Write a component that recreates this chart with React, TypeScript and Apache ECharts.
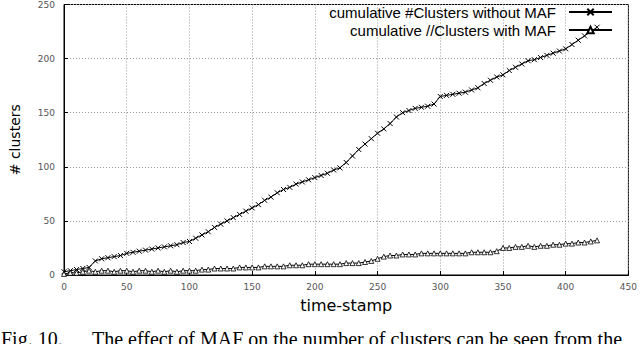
import React, { useEffect, useRef } from "react";
import * as echarts from "echarts";

const timeStamps = [
  0, 5, 10, 15, 20, 25, 30, 35, 40, 45, 50, 55, 60, 65, 70, 75, 80, 85, 90, 95,
  100, 105, 110, 115, 120, 125, 130, 135, 140, 145, 150, 155, 160, 165, 170, 175, 180, 185, 190, 195,
  200, 205, 210, 215, 220, 225, 230, 235, 240, 245, 250, 255, 260, 265, 270, 275, 280, 285, 290, 295,
  300, 305, 310, 315, 320, 325, 330, 335, 340, 345, 350, 355, 360, 365, 370, 375, 380, 385, 390, 395,
  400, 405, 410, 415, 420, 425,
];

const withoutMAF = [
  3, 4, 5, 6, 7, 13, 15, 16, 17, 18, 20, 21, 22, 23, 24, 25, 26, 27, 28, 30,
  31, 34, 37, 40, 44, 47, 50, 53, 56, 59, 62, 65, 69, 72, 76, 79, 81, 84, 86, 88,
  90, 92, 94, 97, 99, 104, 110, 116, 121, 126, 131, 135, 140, 146, 150, 152, 154, 155, 156, 158,
  165, 166, 167, 168, 169, 171, 173, 177, 180, 183, 185, 189, 192, 195, 198, 199, 201, 203, 205, 207,
  209, 213, 217, 221, 225, 229,
];

const withMAF = [
  1, 2, 2, 3, 4, 3, 4, 4, 3, 4, 4, 3, 4, 4, 3, 4, 3, 4, 3, 4,
  4, 4, 5, 5, 6, 6, 6, 6, 7, 7, 7, 7, 8, 8, 8, 8, 9, 9, 9, 10,
  10, 10, 10, 10, 10, 11, 11, 11, 12, 13, 15, 17, 18, 18, 19, 19, 19, 20, 20, 20,
  20, 20, 20, 20, 20, 21, 21, 21, 21, 22, 25, 25, 26, 26, 27, 26, 27, 27, 28, 28,
  29, 29, 30, 30, 31, 32,
];

const xTicks = { min: 0, max: 450, interval: 50 };
const yTicks = { min: 0, max: 250, interval: 50 };

const seriesNames = ["cumulative #Clusters without MAF", "cumulative //Clusters with MAF"];
const xName = "time-stamp";
const yName = "# clusters";
const captionLead = "Fig. 10.";
const captionText = "The effect of MAF on the number of clusters can be seen from the";

export default function App() {
  const ref = useRef<HTMLDivElement>(null);
  useEffect(() => {
    if (!ref.current) return;
    const chart = echarts.init(ref.current, undefined, { renderer: "svg" });
    const pair = (vals: number[]) => timeStamps.map((t, i) => [t, vals[i]]);
    chart.setOption({
      animation: false,
      backgroundColor: "#fff",
      grid: {
        left: 58,
        right: 8,
        top: 4,
        bottom: 69,
        show: true,
        borderColor: "#000",
        borderWidth: 1,
      },
      legend: {
        orient: "vertical",
        right: 27,
        top: 3,
        padding: 0,
        align: "right",
        itemWidth: 43,
        itemHeight: 8,
        itemGap: 0,
        textStyle: { fontSize: 15, lineHeight: 18, fontFamily: "Liberation Sans", color: "#000", padding: [0, 8, 0, 0] },
        data: seriesNames,
      },
      xAxis: {
        type: "value",
        min: xTicks.min,
        max: xTicks.max,
        interval: xTicks.interval,
        name: xName,
        nameLocation: "middle",
        nameGap: 22,
        nameTextStyle: { fontSize: 16, fontFamily: "DejaVu Sans", color: "#000" },
        axisLine: { lineStyle: { color: "#000" } },
        axisTick: { inside: true, length: 4, lineStyle: { color: "#000" } },
        axisLabel: { fontSize: 9, color: "#555", fontFamily: "DejaVu Sans", margin: 7 },
        splitLine: { show: true, lineStyle: { type: [1, 2], color: "#999" } },
      },
      yAxis: {
        type: "value",
        min: yTicks.min,
        max: yTicks.max,
        interval: yTicks.interval,
        name: yName,
        nameLocation: "middle",
        nameGap: 42,
        nameTextStyle: { fontSize: 14, fontFamily: "DejaVu Sans", color: "#000" },
        axisLine: { show: true, lineStyle: { color: "#000" } },
        axisTick: { show: true, inside: true, length: 4, lineStyle: { color: "#000" } },
        axisLabel: { fontSize: 9, color: "#555", fontFamily: "DejaVu Sans", margin: 9 },
        splitLine: { show: true, lineStyle: { type: [1, 2], color: "#999" } },
      },
      series: [
        {
          name: seriesNames[0],
          type: "line",
          data: pair(withoutMAF),
          symbol: "path://M0 0L10 10M10 0L0 10",
          symbolSize: 5,
          showAllSymbol: true,
          lineStyle: { color: "#000", width: 1 },
          itemStyle: { color: "#000", borderColor: "#000", borderWidth: 1 },
        },
        {
          name: seriesNames[1],
          type: "line",
          data: pair(withMAF),
          symbol: "triangle",
          symbolSize: 5,
          showAllSymbol: true,
          lineStyle: { color: "#000", width: 1 },
          itemStyle: { color: "#fff", borderColor: "#000", borderWidth: 0.8 },
        },
      ],
      graphic: [
        {
          type: "text",
          left: 1,
          top: 329,
          style: { text: captionLead, font: "20px 'Liberation Serif'", fill: "#000" },
        },
        {
          type: "text",
          left: 92,
          top: 329,
          style: { text: captionText, font: "20px 'Liberation Serif'", fill: "#000" },
        },
      ],
    });
    return () => chart.dispose();
  }, []);
  return <div ref={ref} style={{ width: 640, height: 344, position: "fixed", left: 0, top: 0 }} />;
}
